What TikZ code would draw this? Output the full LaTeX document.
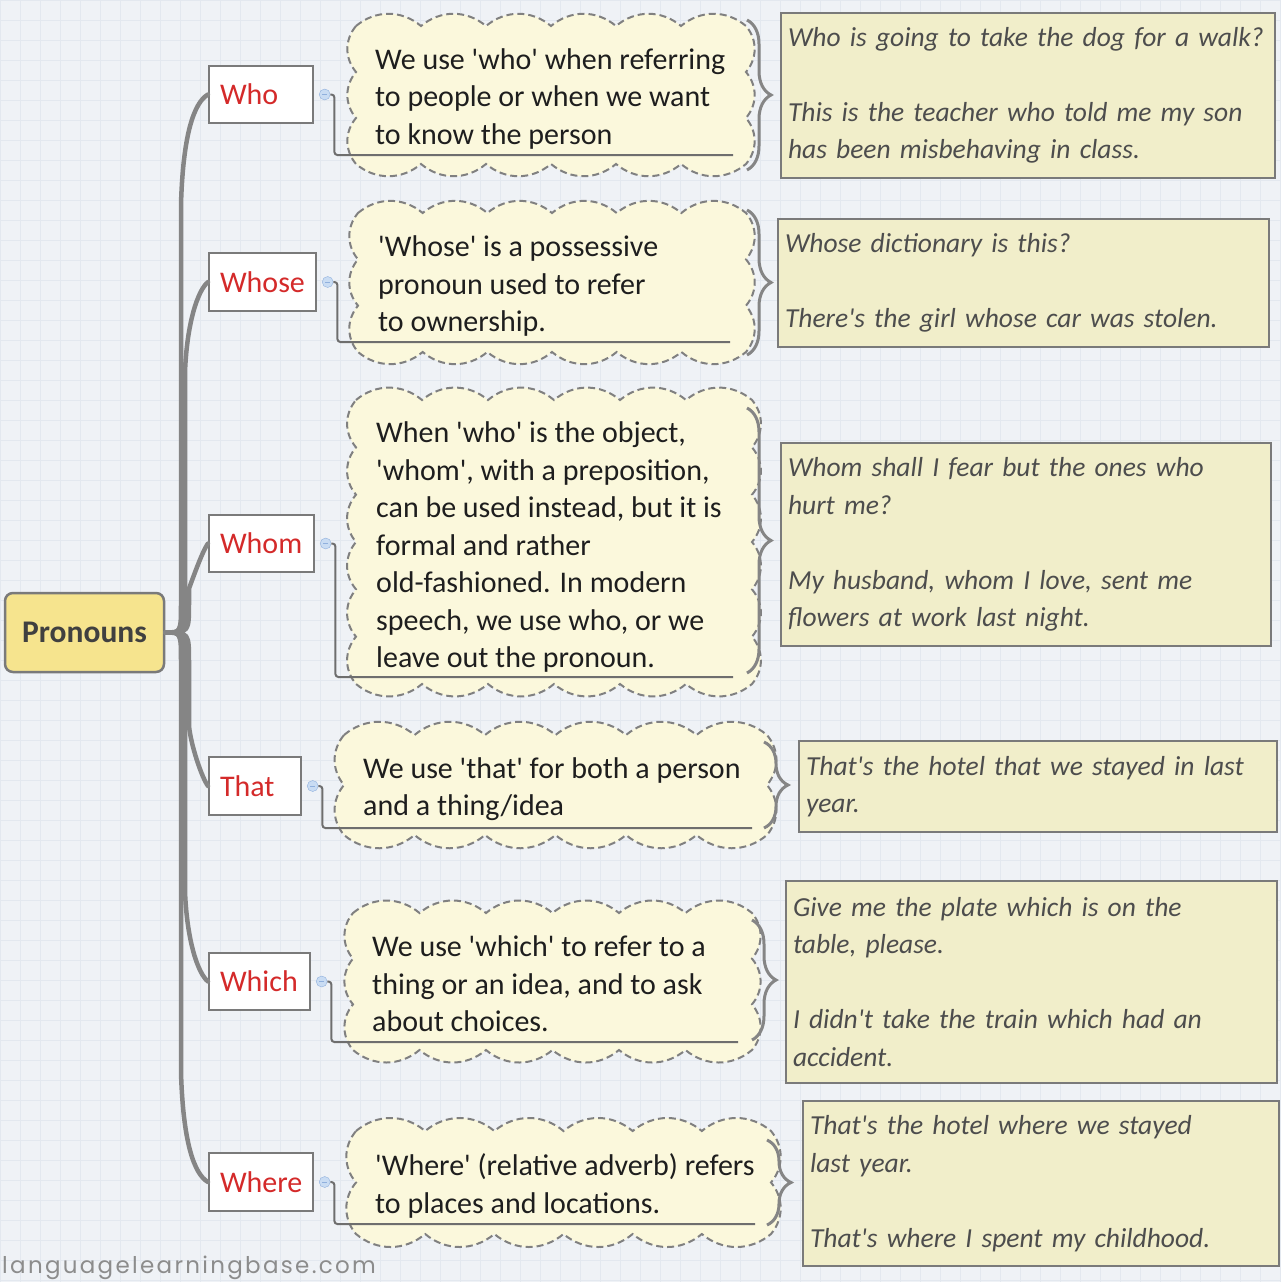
\documentclass[tikz,border=0pt]{standalone}
\usepackage{fontspec}
\setmainfont{Carlito}
\newfontfamily\markfont[LetterSpace=10]{Poppins}
\usetikzlibrary{positioning}
\usetikzlibrary{decorations.pathreplacing}

\definecolor{paper}{HTML}{EFF2F6}
\definecolor{gridline}{HTML}{E3E8EF}
\definecolor{rootfill}{HTML}{F6E48E}
\definecolor{rootink}{HTML}{404040}
\definecolor{boxgray}{HTML}{7A7A7A}
\definecolor{wordred}{HTML}{D42A2A}
\definecolor{cloudfill}{HTML}{FBF8DC}
\definecolor{cloudgray}{HTML}{808080}
\definecolor{exfill}{HTML}{F1EECA}
\definecolor{exink}{HTML}{4D4D4D}
\definecolor{noteink}{HTML}{1E1E1E}
\definecolor{branchgray}{HTML}{858585}
\definecolor{linkgray}{HTML}{6E6E6E}
\definecolor{knobfill}{HTML}{C9DCF3}
\definecolor{knobline}{HTML}{90B0DD}
\definecolor{markgray}{HTML}{8C8C8C}

\tikzset{
  every node/.style={font=\fontsize{30}{37.5}\selectfont},
  root/.style={rectangle, rounded corners=8pt, draw=boxgray, line width=2.5pt,
    fill=rootfill, text=rootink, font=\fontsize{31.5}{36}\selectfont\bfseries,
    minimum width=159pt, minimum height=79pt},
  word/.style={rectangle, draw=boxgray, line width=2pt, fill=white, text=wordred,
    align=left, inner xsep=11pt, anchor=west},
  knob/.style={circle, draw=knobline, fill=knobfill, minimum size=11pt, inner sep=0pt,
    path picture={\draw[knobline, line width=1pt]
      ([xshift=-2.5pt]path picture bounding box.center) -- ([xshift=2.5pt]path picture bounding box.center);}},
  note/.style={text=noteink, align=left, inner sep=0pt, anchor=west},
  example/.style={rectangle, draw=boxgray, line width=2pt, fill=exfill, text=exink,
    font=\fontsize{27.5}{37.5}\selectfont\itshape, align=left, inner xsep=7pt, inner ysep=0pt,
    anchor=north west},
  branch/.style={draw=branchgray, line width=4.5pt, line cap=round},
  link/.style={draw=linkgray, line width=2pt, rounded corners=3pt},
  puff/.style={draw=cloudgray, line width=2pt, dash pattern=on 7pt off 4pt, fill=cloudfill},
  curly/.style={draw=branchgray, line width=3pt, decorate, decoration={brace, amplitude=24pt}},
  sitemark/.style={font=\markfont\fontsize{23}{23}\selectfont, text=markgray, inner sep=0pt}
}

\newcommand{\sq}{\textquotesingle}
% scalloped callout: name, outer x1, y1, x2, y2, puffs per side
\newcommand{\puffbox}[6]{%
  \pgfmathsetmacro{\puffl}{#2+11}\pgfmathsetmacro{\pufft}{#3+13}%
  \pgfmathsetmacro{\puffr}{#4-11}\pgfmathsetmacro{\puffb}{#5-13}%
  \draw[puff] (\puffl,\pufft)
    foreach \k in {1,...,6} {to[bend left=40] ({\puffl+\k*(\puffr-\puffl)/6},\pufft)}
    foreach \k in {1,...,#6} {to[bend left=40] (\puffr,{\pufft+\k*(\puffb-\pufft)/#6})}
    foreach \k in {1,...,6} {to[bend left=40] ({\puffr-\k*(\puffr-\puffl)/6},\puffb)}
    foreach \k in {1,...,#6} {to[bend left=40] (\puffl,{\puffb-\k*(\puffb-\pufft)/#6})} -- cycle;
  \coordinate (#1 ne) at (#4,#3);
  \coordinate (#1 se) at (#4,#5);
}

\begin{document}
\begin{tikzpicture}[x=1pt,y=-1pt]
\useasboundingbox (0,0) rectangle (1280,1282);
\fill[paper] (0,0) rectangle (1280,1282);
\foreach \g in {0,20,...,1280} \draw[gridline, line width=0.6pt] (\g,0) -- (\g,1282);
\foreach \g in {0,20,...,1280} \draw[gridline, line width=0.6pt] (0,\g) -- (1280,\g);

% callouts
\puffbox{whoc}{345}{13}{757}{177}{3}
\puffbox{whosec}{347}{200}{757}{365}{3}
\puffbox{whomc}{345}{387}{763}{697}{6}
\puffbox{thatc}{333}{722}{778}{848}{2}
\puffbox{whichc}{342}{900}{763}{1063}{3}
\puffbox{wherec}{345}{1118}{782}{1247}{2}

% main topic and pronouns
\node[root] (pron) at (84.5,632.5) {Pronouns};
\node[word, text width=82pt, minimum height=57pt] (who) at (208,94.5) {Who};
\node[word, text width=85pt, minimum height=58pt] (whose) at (208,282) {Whose};
\node[word, text width=83pt, minimum height=57pt] (whom) at (208,543.5) {Whom};
\node[word, text width=70pt, minimum height=58pt] (that) at (208,786) {That};
\node[word, text width=79pt, minimum height=57pt] (which) at (208,981.5) {Which};
\node[word, text width=82pt, minimum height=58pt] (where) at (208,1182) {Where};

\foreach \w/\tx/\ty/\s/\b in {who/181/94.5/1/110, whose/185/282/1/90, whom/189/543.5/1/45,
    that/189/786/-1/60, which/185/981.5/-1/90, where/181/1182/-1/110}
  \draw[branch] (pron.east) .. controls (\tx,632.5) .. (\tx,{632.5-30*\s})
    -- (\tx,{\ty+\b*\s}) .. controls ({\tx+2},{\ty+40*\s}) and ({\tx+13},{\ty+8*\s}) .. (\w.west);

% notes
\node[note] (whot) at (375,99) {We use \sq who\sq{} when referring\\to people or when we want\\to know the person};
\node[note] (whoset) at (378,286) {\sq Whose\sq{} is a possessive\\pronoun used to refer\\to ownership.};
\node[note] (whomt) at (376,547) {When \sq who\sq{} is the object,\\\sq whom\sq, with a preposition,\\can be used instead, but it is\\formal and rather\\old-fashioned. In modern\\speech, we use who, or we\\leave out the pronoun.};
\node[note] (thatt) at (363,789) {We use \sq that\sq{} for both a person\\and a thing/idea};
\node[note] (whicht) at (372,984) {We use \sq which\sq{} to refer to a\\thing or an idea, and to ask\\about choices.};
\node[note] (wheret) at (375,1186) {\sq Where\sq{} (relative adverb) refers\\to places and locations.};

% knobs and links to the notes
\node[knob, right=5pt of who] (whok) {};
\node[knob, right=5pt of whose] (whosek) {};
\node[knob, right=5pt of whom] (whomk) {};
\node[knob, right=5pt of that] (thatk) {};
\node[knob, right=5pt of which] (whichk) {};
\node[knob, right=5pt of where] (wherek) {};
\coordinate (whou) at (733,155);
\coordinate (whoseu) at (730,342);
\coordinate (whomu) at (733,677);
\coordinate (thatu) at (752,828);
\coordinate (whichu) at (738,1042);
\coordinate (whereu) at (755,1224);
\foreach \w in {who,whose,whom,that,which,where}
  \draw[link] (\w k.east) -- ++(4,0) |- (\w u);

% examples
\node[example, text width=480pt, minimum height=165pt] (whoe) at (780,12) {Who is going to take the dog for a walk?\\[37.5pt]This is the teacher who told me my son\\has been misbehaving in class.};
\node[example, text width=477pt, minimum height=128pt] (whosee) at (777,218) {Whose dictionary is this?\\[37.5pt]There\sq s the girl whose car was stolen.};
\node[example, text width=476pt, minimum height=203pt] (whome) at (780,442) {Whom shall I fear but the ones who\\hurt me?\\[37.5pt]My husband, whom I love, sent me\\flowers at work last night.};
\node[example, text width=464pt, minimum height=91pt] (thate) at (798,740) {That\sq s the hotel that we stayed in last\\year.};
\node[example, text width=477pt, minimum height=202pt] (whiche) at (785,880) {Give me the plate which is on the\\table, please.\\[37.5pt]I didn\sq t take the train which had an\\accident.};
\node[example, text width=462pt, minimum height=165pt] (wheree) at (802,1100) {That\sq s the hotel where we stayed\\last year.\\[37.5pt]That\sq s where I spent my childhood.};

% braces
\draw[curly] ([shift={(-10,7)}]whoc ne) -- ([shift={(-10,-7)}]whoc se);
\draw[curly] ([shift={(-10,10)}]whosec ne) -- ([shift={(-10,-10)}]whosec se);
\draw[curly] ([shift={(-16,21)}]whomc ne) -- ([shift={(-16,-24)}]whomc se);
\draw[curly] ([shift={(-14,20)}]thatc ne) -- ([shift={(-14,-20)}]thatc se);
\draw[curly] ([shift={(-11,20)}]whichc ne) -- ([shift={(-11,-23)}]whichc se);
\draw[curly] ([shift={(-15,22)}]wherec ne) -- ([shift={(-15,-22)}]wherec se);

\node[sitemark, anchor=base west] (site) at (2,1273) {languagelearningbase.com};
\end{tikzpicture}
\end{document}
